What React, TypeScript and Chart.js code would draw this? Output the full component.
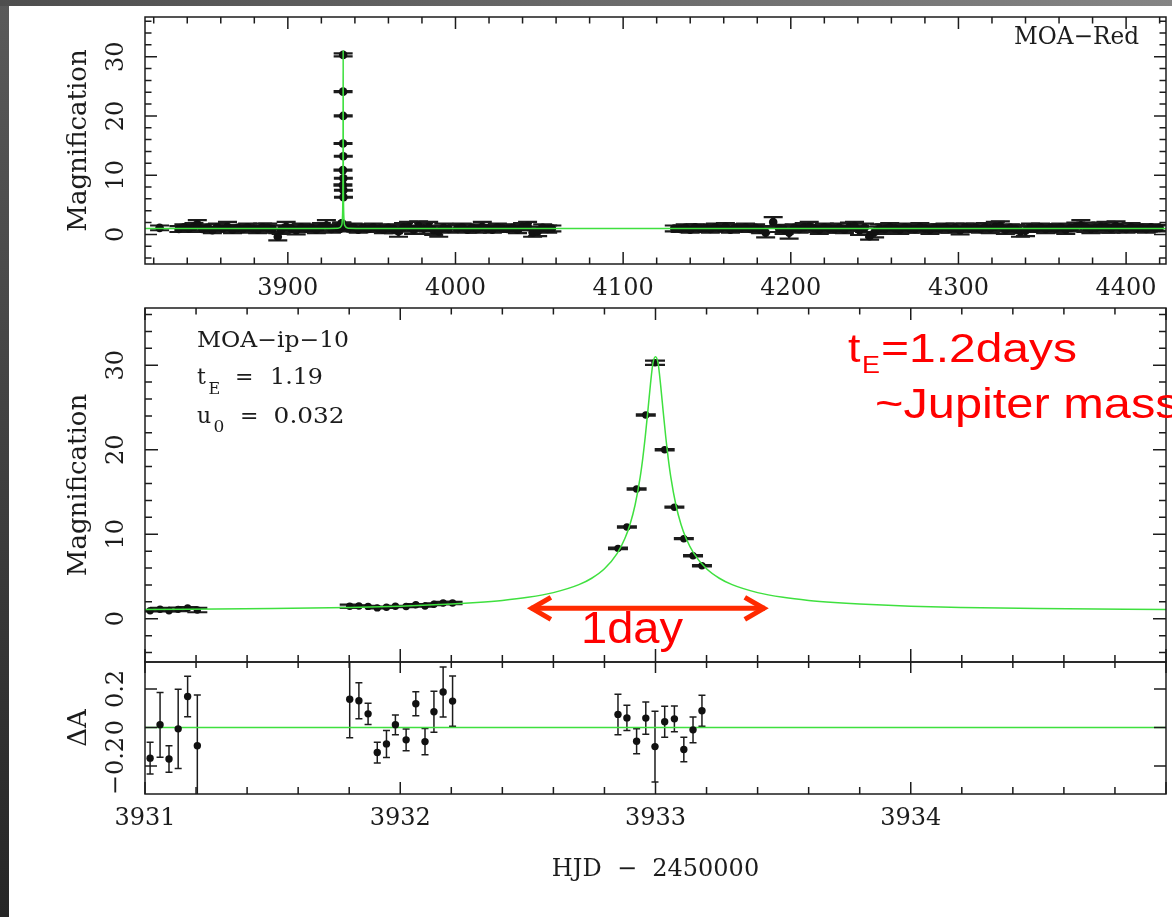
import React, { useEffect, useRef } from 'react';
import { Chart, registerables } from 'chart.js';

Chart.register(...registerables);

// ---------------- Top panel: full MOA-Red season light curve ----------------
const season1T = [3823.5, 3835, 3838, 3841, 3844, 3846, 3849, 3852, 3855, 3858, 3861, 3864, 3867, 3870, 3873, 3876, 3879, 3882, 3885, 3888, 3891, 3894, 3896, 3899, 3902, 3905, 3908, 3911, 3914, 3917, 3920, 3923, 3926, 3929, 3936, 3939, 3942, 3945, 3948, 3951, 3954, 3957, 3960, 3963, 3966, 3969, 3972, 3975, 3978, 3981, 3984, 3987, 3990, 3993, 3996, 4001, 4004, 4007, 4010, 4013, 4016, 4019, 4022, 4025, 4028, 4031, 4034, 4037, 4040, 4043, 4046, 4049, 4052, 4055, 4057.5];
const season1A = [1.1, 0.9, 1.2, 1.0, 1.3, 1.7, 0.9, 1.1, 0.7, 1.2, 1.0, 1.3, 0.8, 1.1, 0.9, 1.2, 1.0, 0.8, 1.2, 1.1, 0.9, -0.4, 0.8, 1.3, 1.0, 0.7, 1.2, 1.0, 1.1, 0.8, 1.2, 1.5, 0.9, 1.1, 1.0, 1.2, 0.8, 1.1, 0.9, 1.2, 1.0, 0.8, 1.1, 0.9, 0.5, 1.2, 1.3, 0.8, 1.4, 1.0, 1.3, 0.7, 0.5, 1.1, 0.9, 1.0, 1.2, 0.8, 1.1, 0.9, 1.3, 1.0, 0.8, 1.2, 1.0, 0.9, 1.1, 0.8, 1.3, 1.4, 0.3, 0.5, 1.1, 0.9, 1.0];
const season1Err = [0.4, 0.5, 0.5, 0.6, 0.6, 0.7, 0.5, 0.6, 0.5, 0.6, 0.5, 0.8, 0.6, 0.5, 0.6, 0.6, 0.5, 0.6, 0.6, 0.7, 0.6, 0.6, 0.7, 0.8, 0.6, 0.7, 0.6, 0.6, 0.5, 0.6, 0.7, 0.9, 0.6, 0.5, 0.5, 0.6, 0.5, 0.6, 0.5, 0.6, 0.5, 0.6, 0.6, 0.7, 0.9, 0.7, 0.8, 0.7, 0.8, 0.9, 0.8, 0.8, 0.9, 0.7, 0.6, 0.6, 0.6, 0.5, 0.6, 0.6, 0.8, 0.6, 0.5, 0.6, 0.6, 0.5, 0.6, 0.6, 0.6, 0.7, 0.7, 0.8, 0.6, 0.6, 0.5];

const season2T = [4130.5, 4134, 4137, 4140, 4143, 4146, 4149, 4152, 4155, 4158, 4161, 4164, 4167, 4170, 4173, 4176, 4179, 4182, 4185, 4189.5, 4193, 4196, 4199, 4202, 4205, 4208, 4211, 4214, 4217, 4220, 4223, 4226, 4229, 4232, 4235, 4238, 4241, 4244, 4247, 4250, 4253, 4256, 4259, 4262, 4265, 4268, 4271, 4274, 4277, 4280, 4283, 4286, 4289, 4292, 4295, 4298, 4301, 4304, 4307, 4310, 4313, 4316, 4319, 4322, 4325, 4328, 4331, 4334, 4337, 4340, 4343, 4346, 4349, 4352, 4355, 4358, 4361, 4364, 4367, 4370, 4373, 4376, 4379, 4382, 4385, 4388, 4391, 4394, 4397, 4400, 4403, 4406, 4409, 4412, 4415, 4418, 4420];
const season2A = [1.0, 0.9, 1.1, 0.8, 1.2, 1.0, 1.1, 0.9, 1.2, 1.0, 1.3, 0.8, 1.1, 1.0, 1.2, 0.9, 1.1, 0.8, 0.3, 2.1, 1.0, 0.8, 0.3, 1.1, 0.9, 1.2, 1.3, 1.0, 0.8, 1.2, 1.0, 0.9, 1.1, 0.8, 1.3, 1.4, 0.7, 1.1, -0.3, 0.4, 1.0, 0.9, 1.2, 1.0, 0.8, 1.2, 1.0, 0.9, 1.2, 1.0, 0.8, 1.1, 1.0, 1.2, 0.9, 1.1, 0.7, 1.2, 1.0, 1.1, 0.9, 1.2, 1.0, 1.3, 1.4, 0.8, 1.1, 0.9, 0.5, 0.6, 1.1, 1.0, 1.2, 0.9, 1.1, 1.0, 1.2, 0.8, 1.1, 1.3, 1.5, 1.2, 0.9, 1.1, 1.3, 1.2, 1.0, 1.4, 1.1, 0.9, 1.2, 1.0, 1.1, 0.9, 1.2, 1.0, 1.1];
const season2Err = [0.5, 0.5, 0.6, 0.5, 0.5, 0.6, 0.5, 0.6, 0.6, 0.5, 0.6, 0.5, 0.6, 0.5, 0.6, 0.5, 0.6, 0.6, 0.8, 0.8, 0.6, 0.7, 1.0, 0.6, 0.6, 0.7, 0.8, 0.6, 0.7, 0.6, 0.7, 0.6, 0.7, 0.6, 0.7, 0.7, 0.8, 0.7, 0.6, 0.9, 0.7, 0.8, 0.7, 0.6, 0.7, 0.6, 0.7, 0.6, 0.7, 0.6, 0.7, 0.6, 0.7, 0.6, 0.6, 0.7, 0.7, 0.6, 0.6, 0.7, 0.6, 0.7, 0.8, 0.8, 0.8, 0.7, 0.6, 0.7, 0.9, 0.9, 0.7, 0.6, 0.6, 0.7, 0.6, 0.7, 0.6, 0.7, 0.6, 0.7, 0.9, 0.8, 0.7, 0.6, 0.7, 0.9, 0.7, 0.8, 0.7, 0.6, 0.7, 0.6, 0.6, 0.6, 0.5, 0.5, 0.5];

// ---------------- Event observations (middle + residual panels) ----------------
const obsT = [3931.020, 3931.059, 3931.094, 3931.130, 3931.167, 3931.205, 3931.802, 3931.838, 3931.874, 3931.910, 3931.946, 3931.981, 3932.023, 3932.061, 3932.097, 3932.132, 3932.168, 3932.205, 3932.853, 3932.888, 3932.926, 3932.962, 3932.998, 3933.036, 3933.074, 3933.111, 3933.147, 3933.182];
const obsA = [0.94, 1.12, 0.95, 1.11, 1.28, 1.03, 1.48, 1.50, 1.46, 1.28, 1.36, 1.48, 1.44, 1.66, 1.51, 1.71, 1.86, 1.87, 8.33, 10.85, 15.35, 24.1, 30.3, 20.0, 13.2, 9.47, 7.46, 6.27];
const obsErr = [0.08, 0.17, 0.07, 0.21, 0.1, 0.26, 0.2, 0.09, 0.06, 0.05, 0.07, 0.05, 0.06, 0.06, 0.07, 0.11, 0.13, 0.13, 0.1, 0.07, 0.07, 0.08, 0.25, 0.08, 0.07, 0.06, 0.07, 0.08];
const resid = [-0.159, 0.014, -0.163, -0.007, 0.161, -0.095, 0.147, 0.139, 0.071, -0.130, -0.085, 0.014, -0.064, 0.123, -0.073, 0.082, 0.184, 0.137, 0.068, 0.050, -0.071, 0.049, -0.099, 0.030, 0.045, -0.114, -0.012, 0.087];
const residErr = [0.082, 0.168, 0.069, 0.206, 0.105, 0.264, 0.200, 0.093, 0.055, 0.054, 0.070, 0.051, 0.056, 0.062, 0.068, 0.106, 0.130, 0.130, 0.105, 0.065, 0.065, 0.084, 0.184, 0.080, 0.067, 0.063, 0.067, 0.081];

// ---------------- Model curves ----------------
const topModelT = [3814, 3900, 3925, 3930, 3932, 3932.5, 3932.8, 3932.9, 3932.95, 3933.0, 3933.05, 3933.1, 3933.2, 3933.5, 3934, 3936, 3941, 4000, 4424];
const topModelA = [1.0, 1.0, 1.01, 1.03, 1.48, 2.53, 5.91, 11.15, 18.95, 31.0, 18.95, 11.15, 5.91, 2.53, 1.48, 1.03, 1.01, 1.0, 1.0];
const zoomModelT = [3931.0, 3931.5, 3931.8, 3932.0, 3932.2, 3932.3, 3932.4, 3932.5, 3932.6, 3932.7, 3932.75, 3932.8, 3932.85, 3932.88, 3932.9, 3932.92, 3932.94, 3932.95, 3932.96, 3932.97, 3932.98, 3932.99, 3933.0, 3933.01, 3933.02, 3933.03, 3933.04, 3933.05, 3933.06, 3933.08, 3933.1, 3933.12, 3933.15, 3933.2, 3933.25, 3933.3, 3933.4, 3933.5, 3933.6, 3933.7, 3933.8, 3934.0, 3934.2, 3934.5, 3935.0];
const zoomModelA = [1.10, 1.21, 1.34, 1.48, 1.73, 1.91, 2.16, 2.53, 3.09, 4.03, 4.79, 5.91, 7.74, 9.49, 11.15, 13.46, 16.77, 18.95, 21.57, 24.56, 27.68, 30.24, 31.0, 30.24, 27.68, 24.56, 21.57, 18.95, 16.77, 13.46, 11.15, 9.49, 7.74, 5.91, 4.79, 4.03, 3.09, 2.53, 2.16, 1.91, 1.73, 1.48, 1.34, 1.21, 1.10];
const residModelT = [3931, 3935];
const residModelA = [0, 0];

// ---------------- Texts ----------------
const topPanelLabel = 'MOA\u2212Red';
const eventName = 'MOA\u2212ip\u221210';
const tEValue = '1.19';
const u0Value = '0.032';
const yTitle = 'Magnification';
const residTitle = '\u0394A';
const xTitle = 'HJD  \u2212  2450000';
const noteTE = '=1.2days';
const noteMass = '~Jupiter mass';
const noteDay = '1day';
const arrowFrom = 3932.50;
const arrowTo = 3933.44;
const arrowLevel = 1.23;

// ---------------- Styling ----------------
const W = 1172;
const H = 917;
const SERIF = '"DejaVu Serif", "Liberation Serif", serif';
const SANS = '"Liberation Sans", Arial, sans-serif';
const INK = '#1c1c1c';
const GREEN = '#3fe03f';
const RED = '#ff0000';
const ARROW_RED = '#ff2a00';

const zip = (xs: number[], ys: number[]) => xs.map((x, i) => ({ x, y: ys[i] }));
const isMult = (v: number, m: number) => Math.abs(v / m - Math.round(v / m)) < 1e-6;
const fmt = (v: number) => {
  const r = Math.round(v * 1000) / 1000;
  return String(r).replace('-', '\u2212');
};

function xAxis(min: number, max: number, step: number, major: number, showLabels: boolean, height: number, title?: string) {
  return {
    type: 'linear',
    position: 'bottom',
    min,
    max,
    grid: { display: false, drawTicks: false },
    border: { display: false },
    ticks: {
      stepSize: step,
      autoSkip: false,
      includeBounds: false,
      minRotation: 0,
      maxRotation: 0,
      display: showLabels,
      padding: 10,
      color: INK,
      font: { family: SERIF, size: 24 },
      callback: (v: number) => (isMult(v, major) && v < max - 1e-6 ? fmt(v) : ''),
    },
    title: title
      ? { display: true, text: title, color: INK, font: { family: SERIF, size: 24 }, padding: { top: 0, bottom: 10 } }
      : { display: false },
    afterFit: (s: any) => {
      s.height = height;
      s.paddingLeft = 0;
      s.paddingRight = 0;
      s.paddingTop = 0;
      s.paddingBottom = 0;
    },
  };
}

function yAxis(min: number, max: number, step: number, labelled: (v: number) => boolean, title: string, pad: number) {
  return {
    type: 'linear',
    position: 'left',
    min,
    max,
    grid: { display: false, drawTicks: false },
    border: { display: false },
    ticks: {
      stepSize: step,
      autoSkip: false,
      includeBounds: false,
      minRotation: 90,
      maxRotation: 90,
      crossAlign: 'center',
      padding: pad,
      color: INK,
      font: { family: SERIF, size: 24 },
      callback: (v: number) => (labelled(v) ? fmt(v) : ''),
    },
    title: { display: true, text: title, color: INK, font: { family: SERIF, size: 26 }, padding: { top: 64, bottom: 0 } },
    afterFit: (s: any) => {
      s.width = 145;
      s.paddingLeft = 0;
      s.paddingRight = 0;
      s.paddingTop = 0;
      s.paddingBottom = 0;
    },
  };
}

type TickOpts = { xMajor: number; yMajor: number; major: number; minor: number; topMajor: number; topMinor: number };

function frameTicks(id: string, o: TickOpts) {
  return {
    id,
    afterDatasetsDraw(chart: any) {
      const { ctx, chartArea: a, scales } = chart;
      const xs = scales.x;
      const ys = scales.y;
      ctx.save();
      ctx.strokeStyle = INK;
      ctx.lineWidth = 1.5;
      ctx.beginPath();
      for (const t of xs.ticks) {
        const px = xs.getPixelForValue(t.value);
        if (px < a.left - 0.5 || px > a.right + 0.5) continue;
        const maj = isMult(t.value, o.xMajor);
        ctx.moveTo(px, a.bottom);
        ctx.lineTo(px, a.bottom - (maj ? o.major : o.minor));
        ctx.moveTo(px, a.top);
        ctx.lineTo(px, a.top + (maj ? o.topMajor : o.topMinor));
      }
      for (const t of ys.ticks) {
        const py = ys.getPixelForValue(t.value);
        if (py < a.top - 0.5 || py > a.bottom + 0.5) continue;
        const len = isMult(t.value, o.yMajor) ? o.major : o.minor;
        ctx.moveTo(a.left, py);
        ctx.lineTo(a.left + len, py);
        ctx.moveTo(a.right, py);
        ctx.lineTo(a.right - len, py);
      }
      ctx.stroke();
      ctx.strokeRect(a.left, a.top, a.right - a.left, a.bottom - a.top);
      ctx.restore();
    },
  };
}

type ErrSet = { t: number[]; v: number[]; e: number[] };

function errorBars(id: string, sets: ErrSet[], cap: number, capLW: number, lineLW: number) {
  return {
    id,
    beforeDatasetsDraw(chart: any) {
      const { ctx, chartArea: a, scales } = chart;
      const xs = scales.x;
      const ys = scales.y;
      ctx.save();
      ctx.beginPath();
      ctx.rect(a.left, a.top, a.right - a.left, a.bottom - a.top);
      ctx.clip();
      ctx.strokeStyle = INK;
      for (const s of sets) {
        for (let i = 0; i < s.t.length; i++) {
          const px = xs.getPixelForValue(s.t[i]);
          const lo = ys.getPixelForValue(s.v[i] - s.e[i]);
          const hi = ys.getPixelForValue(s.v[i] + s.e[i]);
          ctx.lineWidth = lineLW;
          ctx.beginPath();
          ctx.moveTo(px, lo);
          ctx.lineTo(px, hi);
          ctx.stroke();
          ctx.lineWidth = capLW;
          ctx.beginPath();
          ctx.moveTo(px - cap / 2, lo);
          ctx.lineTo(px + cap / 2, lo);
          ctx.moveTo(px - cap / 2, hi);
          ctx.lineTo(px + cap / 2, hi);
          ctx.stroke();
        }
      }
      ctx.restore();
    },
  };
}

function txt(
  ctx: CanvasRenderingContext2D,
  s: string,
  x: number,
  y: number,
  size: number,
  family: string,
  color: string,
  opts: { align?: 'left' | 'right'; width?: number; sx?: number } = {}
) {
  ctx.save();
  ctx.font = `${size}px ${family}`;
  ctx.fillStyle = color;
  ctx.textBaseline = 'alphabetic';
  ctx.textAlign = 'left';
  const mw = ctx.measureText(s).width;
  let sx = opts.sx ?? 1;
  if (opts.width) sx = opts.width / mw;
  const w = mw * sx;
  const x0 = opts.align === 'right' ? x - w : x;
  ctx.translate(x0, y);
  ctx.scale(sx, 1);
  ctx.fillText(s, 0, 0);
  ctx.restore();
}

const annotTop = {
  id: 'annotTop',
  afterDraw(chart: any) {
    const { ctx, chartArea: a } = chart;
    txt(ctx, topPanelLabel, a.right - 27, a.top + 27.3, 24, SERIF, INK, { align: 'right', width: 125 });
  },
};

const annotMid = {
  id: 'annotMid',
  afterDraw(chart: any) {
    const { ctx, chartArea: a, scales } = chart;
    const L = a.left;
    const T = a.top;
    // PGPLOT annotations
    txt(ctx, eventName, L + 52, T + 38.7, 22, SERIF, INK, { width: 152 });
    txt(ctx, 't', L + 52, T + 76.3, 22, SERIF, INK);
    txt(ctx, 'E', L + 63.6, T + 86.3, 16, SERIF, INK);
    txt(ctx, '=', L + 90, T + 76.3, 22, SERIF, INK);
    txt(ctx, tEValue, L + 125, T + 76.3, 22, SERIF, INK, { width: 53 });
    txt(ctx, 'u', L + 52, T + 114.7, 22, SERIF, INK);
    txt(ctx, '0', L + 68.5, T + 123.7, 17, SERIF, INK);
    txt(ctx, '=', L + 95, T + 114.7, 22, SERIF, INK);
    txt(ctx, u0Value, L + 128.6, T + 114.7, 22, SERIF, INK, { width: 71 });

    // red slide annotations
    txt(ctx, 't', 848, 361.7, 40, SANS, RED, { sx: 1.12 });
    txt(ctx, 'E', 862, 373.3, 24, SANS, RED, { sx: 1.12 });
    txt(ctx, noteTE, 881, 361.7, 40, SANS, RED, { width: 196 });
    txt(ctx, noteMass, 875, 418.3, 42, SANS, RED, { sx: 1.16 });
    txt(ctx, noteDay, 581, 643.3, 44, SANS, RED, { sx: 1.07 });

    // double-headed arrow
    const xs = scales.x;
    const ys = scales.y;
    const x1 = xs.getPixelForValue(arrowFrom);
    const x2 = xs.getPixelForValue(arrowTo);
    const yy = ys.getPixelForValue(arrowLevel);
    ctx.save();
    ctx.strokeStyle = ARROW_RED;
    ctx.lineWidth = 5;
    ctx.lineJoin = 'miter';
    ctx.lineCap = 'butt';
    ctx.beginPath();
    ctx.moveTo(x1 + 3, yy);
    ctx.lineTo(x2 - 3, yy);
    ctx.stroke();
    ctx.beginPath();
    ctx.moveTo(x1 + 23, yy - 11);
    ctx.lineTo(x1 + 4, yy);
    ctx.lineTo(x1 + 23, yy + 11);
    ctx.moveTo(x2 - 23, yy - 11);
    ctx.lineTo(x2 - 4, yy);
    ctx.lineTo(x2 - 23, yy + 11);
    ctx.stroke();
    ctx.restore();
  },
};

const baseOptions = {
  responsive: false,
  animation: false,
  events: [],
  plugins: { legend: { display: false }, tooltip: { enabled: false } },
};

function configTop(): any {
  const topT = [...season1T, ...obsT, ...season2T];
  const topA = [...season1A, ...obsA, ...season2A];
  const topE = [...season1Err, ...obsErr, ...season2Err];
  return {
    type: 'scatter',
    data: {
      datasets: [
        { data: zip(topModelT, topModelA), showLine: true, borderColor: GREEN, borderWidth: 1.5, pointRadius: 0, cubicInterpolationMode: 'monotone', order: 0 },
        { data: zip(topT, topA), pointRadius: 4.3, pointBackgroundColor: '#111111', pointBorderWidth: 0, order: 1 },
      ],
    },
    options: {
      ...baseOptions,
      layout: { padding: { left: 0, top: 17, right: 6, bottom: H - 264 - 40 } },
      scales: {
        x: xAxis(3814.8, 4423.8, 20, 100, true, 40),
        y: yAxis(-5.0, 36.7, 2, (v) => isMult(v, 10) && v >= 0, yTitle, 13),
      },
    },
    plugins: [errorBars('errTop', [{ t: topT, v: topA, e: topE }], 19, 2.2, 2.5), frameTicks('ticksTop', { xMajor: 100, yMajor: 10, major: 12, minor: 6.5, topMajor: 12, topMinor: 6.5 }), annotTop],
  };
}

function configMid(): any {
  return {
    type: 'scatter',
    data: {
      datasets: [
        { data: zip(zoomModelT, zoomModelA), showLine: true, borderColor: GREEN, borderWidth: 1.5, pointRadius: 0, cubicInterpolationMode: 'monotone', order: 0 },
        { data: zip(obsT, obsA), pointRadius: 3.7, pointBackgroundColor: '#111111', pointBorderWidth: 0, order: 1 },
      ],
    },
    options: {
      ...baseOptions,
      layout: { padding: { left: 0, top: 308, right: 6, bottom: H - 662 - 10 } },
      scales: {
        x: xAxis(3931, 3935, 0.2, 1, false, 10),
        y: yAxis(-5.12, 36.77, 2, (v) => isMult(v, 10) && v >= 0, yTitle, 13),
      },
    },
    plugins: [errorBars('errMid', [{ t: obsT, v: obsA, e: obsErr }], 20, 2.2, 1.2), frameTicks('ticksMid', { xMajor: 1, yMajor: 10, major: 13, minor: 7, topMajor: 12, topMinor: 6.5 }), annotMid],
  };
}

function configRes(): any {
  return {
    type: 'scatter',
    data: {
      datasets: [
        { data: zip(obsT, resid), pointRadius: 3.7, pointBackgroundColor: '#111111', pointBorderWidth: 0, order: 0 },
        { data: zip(residModelT, residModelA), showLine: true, borderColor: GREEN, borderWidth: 1.5, pointRadius: 0, order: 1 },
      ],
    },
    options: {
      ...baseOptions,
      layout: { padding: { left: 0, top: 662, right: 6, bottom: H - 794 - 100 } },
      scales: {
        x: xAxis(3931, 3935, 0.2, 1, true, 100, xTitle),
        y: yAxis(-0.345, 0.34, 0.2, () => true, residTitle, -1),
      },
    },
    plugins: [errorBars('errRes', [{ t: obsT, v: resid, e: residErr }], 7, 1.5, 1.5), frameTicks('ticksRes', { xMajor: 1, yMajor: 0.2, major: 12, minor: 7, topMajor: 11, topMinor: 6 })],
  };
}

export default function App() {
  const refTop = useRef<HTMLCanvasElement>(null);
  const refMid = useRef<HTMLCanvasElement>(null);
  const refRes = useRef<HTMLCanvasElement>(null);

  useEffect(() => {
    const charts = [
      new Chart(refTop.current as HTMLCanvasElement, configTop()),
      new Chart(refMid.current as HTMLCanvasElement, configMid()),
      new Chart(refRes.current as HTMLCanvasElement, configRes()),
    ];
    return () => charts.forEach((c) => c.destroy());
  }, []);

  const cv: React.CSSProperties = { position: 'absolute', left: 0, top: 0 };
  return (
    <div style={{ position: 'absolute', left: 0, top: 0, width: W, height: H, background: '#ffffff', overflow: 'hidden' }}>
      <div style={{ position: 'absolute', left: 0, top: 0, width: 9, height: H, background: 'linear-gradient(#5a5a5a, #262626)' }} />
      <div style={{ position: 'absolute', left: 0, top: 0, width: W, height: 6, background: 'linear-gradient(to right, #4e4e4e, #858585)' }} />
      <canvas ref={refTop} width={W} height={H} style={cv} />
      <canvas ref={refMid} width={W} height={H} style={cv} />
      <canvas ref={refRes} width={W} height={H} style={cv} />
    </div>
  );
}
